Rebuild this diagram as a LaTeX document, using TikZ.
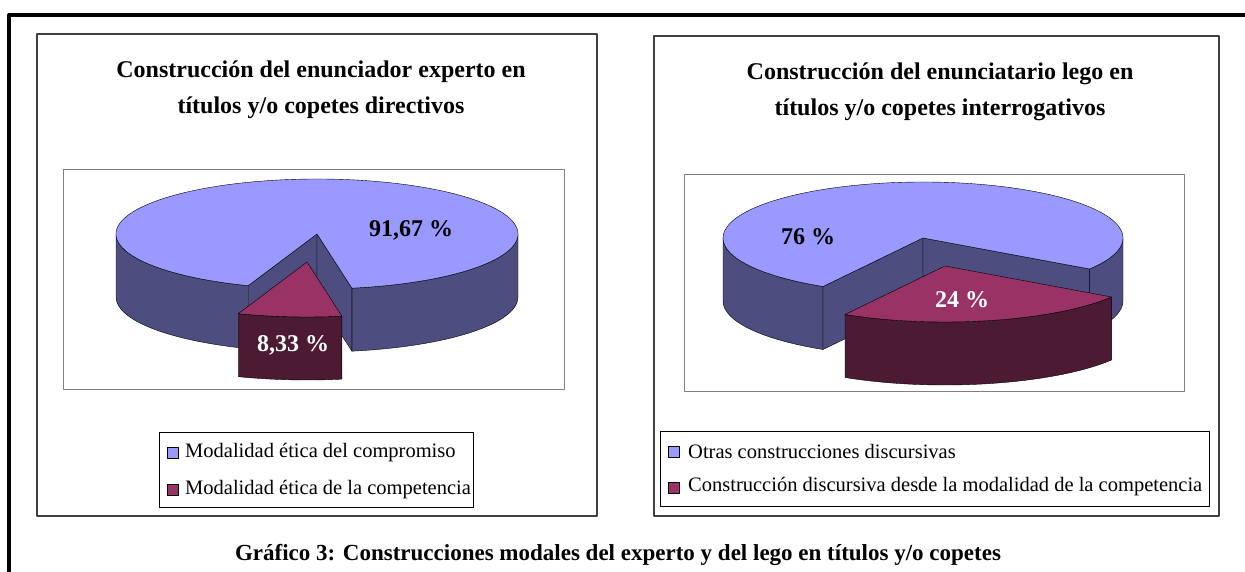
\documentclass[tikz,border=0pt]{standalone}
\usepackage{fontspec}
\setmainfont{Liberation Serif}
\usetikzlibrary{calc}
\definecolor{topblue}{HTML}{9999FF}
\definecolor{sideblue}{HTML}{4D4D80}
\definecolor{topwine}{HTML}{993366}
\definecolor{sidewine}{HTML}{4D1A33}
\def\rx{201}\def\ry{55}\def\hh{63}
\def\pieside[#1](#2)(#3:#4){\draw[#1] ($(#2)+({\rx*cos(#3)},{\ry*sin(#3)})$) arc[start angle=#3, end angle=#4, x radius=\rx pt, y radius=\ry pt] -- ++(0,-\hh) arc[start angle=#4, end angle=#3, x radius=\rx pt, y radius=\ry pt] -- cycle;}
\def\piecut[#1](#2)(#3){\draw[#1] (#2) -- ($(#2)+({\rx*cos(#3)},{\ry*sin(#3)})$) -- ++(0,-\hh) -- ($(#2)+(0,-\hh)$) -- cycle;}
\def\pietop[#1](#2)(#3:#4){\draw[#1] (#2) -- ($(#2)+({\rx*cos(#3)},{\ry*sin(#3)})$) arc[start angle=#3, end angle=#4, x radius=\rx pt, y radius=\ry pt] -- cycle;}

\begin{document}
\begin{tikzpicture}[x=1pt, y=1pt, line join=round,
	chartbox/.style={draw=black!75, line width=1.5},
	plotbox/.style={draw=black!50, line width=1},
	titletext/.style={font=\fontsize{24}{24}\selectfont\bfseries},
	valuetext/.style={font=\fontsize{24}{24}\selectfont\bfseries},
	legendtext/.style={anchor=west, inner sep=0, font=\fontsize{20.5}{20.5}\selectfont},
	legendkey/.style={draw=black, line width=1, minimum size=11, inner sep=0}]
		%%%%% START %%%%%
		\useasboundingbox (0,0) rectangle (1245,572);
		
		\draw[line width=4] (9,0) -- (9,557) -- (1245,557);
		
		% left chart
		\draw[chartbox] (37,56) rectangle (597,538);
		\node[titletext] (tituloA) at (321,500) {Construcción del enunciador experto en};
		\node[titletext] (tituloB) at (321,464) {títulos y/o copetes directivos};
		\draw[plotbox] (63,182) rectangle (564,402);
		
		\def\rx{201}\def\ry{55}\def\hh{63}
		\coordinate (expC) at (317,338);
		\coordinate (expW) at (307,310);
		\pieside[fill=sideblue](expC)(180:250);
		\pieside[fill=sideblue](expC)(280:360);
		\piecut[fill=sideblue](expC)(250);
		\piecut[fill=sideblue](expC)(280);
		\pietop[fill=topblue](expC)(280:610);
		\pieside[fill=sidewine](expW)(250:280);
		\pietop[fill=topwine](expW)(250:280);
		\node[valuetext] (valA) at (411,342) {91,67 \%};
		\node[valuetext, text=white] (valB) at (293,227) {8,33 \%};
		
		\draw[draw=black, line width=1] (159,64) rectangle (473,139);
		\node[legendkey, fill=topblue] (keyA) at (172.5,119) {};
		\node[legendkey, fill=topwine] (keyB) at (172.5,82) {};
		\node[legendtext] (legA) at (185,119) {Modalidad ética del compromiso};
		\node[legendtext] (legB) at (185,82) {Modalidad ética de la competencia};
		
		% right chart
		\draw[chartbox] (654,56) rectangle (1219,536);
		\node[titletext] (tituloC) at (940,498) {Construcción del enunciatario lego en};
		\node[titletext] (tituloD) at (940,462) {títulos y/o copetes interrogativos};
		\draw[plotbox] (684,180) rectangle (1184,397);
		
		\def\rx{200}\def\ry{56}\def\hh{63}
		\coordinate (legC) at (923,334);
		\coordinate (legW) at (945,306);
		\pieside[fill=sideblue](legC)(180:240);
		\pieside[fill=sideblue](legC)(326.4:360);
		\piecut[fill=sideblue](legC)(240);
		\piecut[fill=sideblue](legC)(326.4);
		\pietop[fill=topblue](legC)(326.4:600);
		\pieside[fill=sidewine](legW)(240:326.4);
		\pietop[fill=topwine](legW)(240:326.4);
		\node[valuetext] (valC) at (808,335) {76 \%};
		\node[valuetext, text=white] (valD) at (962,272) {24 \%};
		
		\draw[draw=black, line width=1] (660,65) rectangle (1209,140);
		\node[legendkey, fill=topblue] (keyC) at (674,120) {};
		\node[legendkey, fill=topwine] (keyD) at (674,84) {};
		\node[legendtext] (legC) at (688,121) {Otras construcciones discursivas};
		\node[legendtext] (legD) at (688,85) {Construcción discursiva desde la modalidad de la competencia};
		
		\node[font=\fontsize{23}{23}\selectfont\bfseries] (pie) at (618,17) {Gráfico 3: Construcciones modales del experto y del lego en títulos y/o copetes};
		
		%%%%% END %%%%%
	\end{tikzpicture}
\end{document}
